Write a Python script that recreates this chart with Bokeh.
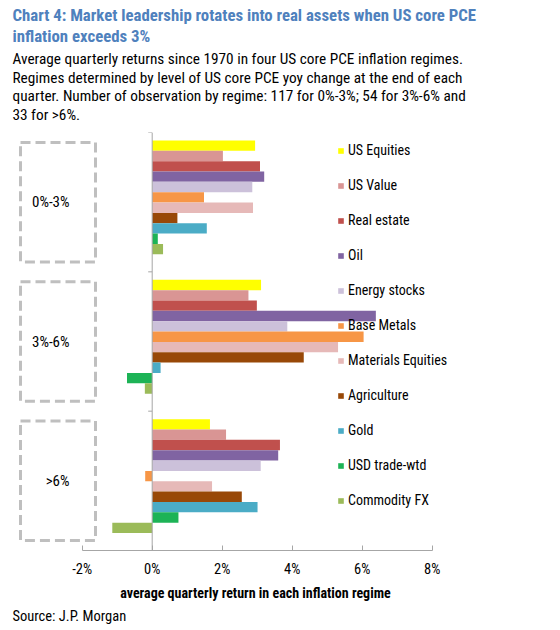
from bokeh.plotting import figure
from bokeh.models import Range1d, FixedTicker, PrintfTickFormatter, Title, Span
from bokeh.core.properties import value
from bokeh.embed import file_html
from bokeh.resources import INLINE

# ---------------- data ----------------
regimes = ["0%-3%", "3%-6%", ">6%"]
series = ["US Equities", "US Value", "Real estate", "Oil", "Energy stocks",
          "Base Metals", "Materials Equities", "Agriculture", "Gold",
          "USD trade-wtd", "Commodity FX"]
# average quarterly return (%) per series, one list per regime
ret_0_3 = [2.94, 2.02, 3.08, 3.20, 2.86, 1.48, 2.88, 0.72, 1.56, 0.16, 0.31]
ret_3_6 = [3.11, 2.75, 2.99, 6.39, 3.86, 6.04, 5.31, 4.33, 0.24, -0.72, -0.21]
ret_6_up = [1.65, 2.11, 3.65, 3.60, 3.10, -0.20, 1.71, 2.56, 3.01, 0.75, -1.14]
x_ticks = [-2, 0, 2, 4, 6, 8]

colors = ["#FFFF00", "#D99594", "#C0504D", "#8064A2", "#CCC1DA", "#F79646",
          "#E6B9B8", "#984807", "#4BACC6", "#1DB356", "#9BBB59"]

FONT = "'Liberation Sans Narrow', 'Arial Narrow', 'Roboto Condensed', sans-serif"

# ---------------- layout constants ----------------
W = 510
TOP, FRAME_H, BOTTOM = 132, 420, 74
H = TOP + FRAME_H + BOTTOM
PX_PER_PCT = 35.0
ZERO_PX = 151.7          # x of 0% within the figure
BAND_PX = FRAME_H / len(regimes)
BAR_PX = 10.4
TOP_GAP_PX = 8.0
bar_w = BAR_PX / BAND_PX
top_gap = TOP_GAP_PX / BAND_PX

x0 = -ZERO_PX / PX_PER_PCT
x1 = (W - ZERO_PX) / PX_PER_PCT


def px2x(px):
    return (px - ZERO_PX) / PX_PER_PCT


p = figure(width=W, height=H, x_range=Range1d(x0, x1),
           y_range=Range1d(len(regimes), 0),
           output_backend="svg", toolbar_location=None,
           y_axis_location=None,
           min_border_left=0, min_border_right=0,
           min_border_top=TOP, min_border_bottom=BOTTOM)
p.grid.visible = False
p.outline_line_color = None

all_vals = [ret_0_3, ret_3_6, ret_6_up]
for i, name in enumerate(series):
    ys = [g + top_gap + bar_w * (i + 0.5) for g in range(len(regimes))]
    rights = [all_vals[g][i] for g in range(len(regimes))]
    p.hbar(y=ys, left=0, right=rights, height=bar_w, fill_color=colors[i],
           line_color=None, legend_label=name)

# zero axis line with band ticks
p.add_layout(Span(location=0, dimension="height", line_color="#a6a6a6", line_width=1))
bounds = list(range(len(regimes) + 1))
p.segment(x0=[-4 / PX_PER_PCT] * len(bounds), x1=[0] * len(bounds),
          y0=bounds, y1=bounds, line_color="#a6a6a6", line_width=1)

# dashed category boxes and labels
box_l, box_r = px2x(20), px2x(95)
p.rect(x=[(box_l + box_r) / 2] * len(regimes),
       y=[g + 0.5 for g in range(len(regimes))],
       width=box_r - box_l, height=120 / BAND_PX,
       fill_alpha=0, line_color="#bfbfbf", line_width=3, line_dash="10 5")
p.text(x=[px2x(69)] * len(regimes),
       y=[g + 0.5 for g in range(len(regimes))], text=regimes,
       text_align="right", text_baseline="middle",
       text_font=value(FONT), text_font_size="15px", text_color="#000000")

# x axis
ax = p.xaxis[0]
ax.ticker = FixedTicker(ticks=x_ticks)
ax.formatter = PrintfTickFormatter(format="%d%%")
ax.bounds = (x_ticks[0], x_ticks[-1])
ax.axis_line_color = "#a6a6a6"
ax.major_tick_line_color = "#a6a6a6"
ax.major_tick_in = 5
ax.major_tick_out = 0
ax.minor_tick_line_color = None
ax.major_label_text_font = FONT
ax.major_label_text_font_size = "14.5px"
ax.major_label_text_color = "#000000"
ax.major_label_standoff = 10
ax.axis_label = "average quarterly return in each inflation regime"
ax.axis_label_text_font = FONT
ax.axis_label_text_font_size = "14px"
ax.axis_label_text_font_style = "bold"
ax.axis_label_text_color = "#000000"
ax.axis_label_standoff = 4

# legend
lg = p.legend[0]
lg.location = (337, 42)
lg.label_text_font = FONT
lg.label_text_font_size = "14px"
lg.label_text_color = "#000000"
lg.glyph_width = 7
lg.glyph_height = 7
lg.label_height = 12
lg.spacing = 19
lg.label_standoff = 4
lg.padding = 0
lg.margin = 0
lg.border_line_color = None
lg.background_fill_alpha = 0

# titles
sub = Title(text="Average quarterly returns since 1970 in four US core PCE inflation regimes.\n"
                 "Regimes determined by level of US core PCE yoy change at the end of each\n"
                 "quarter. Number of observation by regime: 117 for 0%-3%; 54 for 3%-6% and\n"
                 "33 for >6%.",
            align="left", offset=12, text_font=FONT, text_font_size="15.3px",
            text_font_style="normal", text_color="#000000", text_line_height=1.03,
            standoff=17)
main = Title(text="Chart 4: Market leadership rotates into real assets when US core PCE\n"
                  "inflation exceeds 3%",
             align="left", offset=12, text_font=FONT, text_font_size="16.8px",
             text_font_style="bold", text_color="#4F81BD", text_line_height=1.05,
             standoff=-13)
p.add_layout(sub, "above")
p.add_layout(main, "above")

src = Title(text="Source: J.P. Morgan", align="left", offset=12, text_font=FONT,
            text_font_size="14.5px", text_font_style="normal", text_color="#000000",
            standoff=4)
p.add_layout(src, "below")

open("out.html", "w").write(file_html(p, INLINE))
